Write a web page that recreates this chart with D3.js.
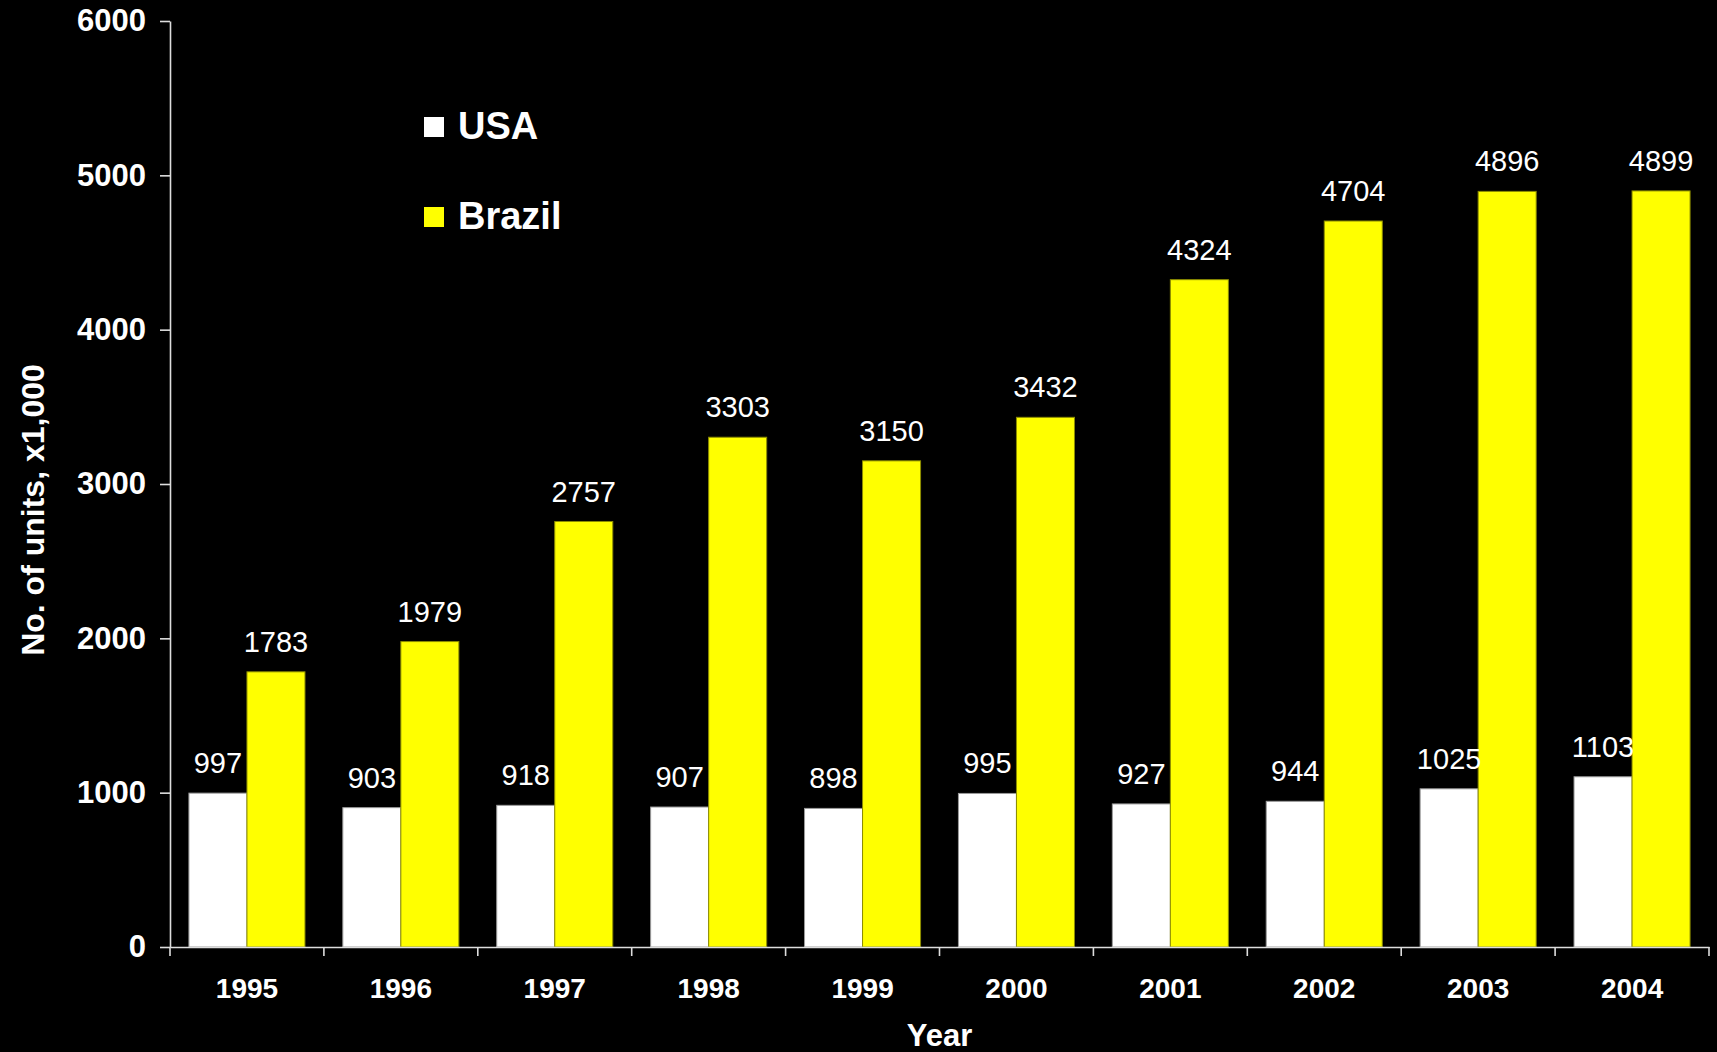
<!DOCTYPE html>
<html>
<head>
<meta charset="utf-8">
<script src="https://cdn.jsdelivr.net/npm/d3@7"></script>
<style>
  html, body { margin: 0; padding: 0; background: #000; }
  svg { display: block; font-family: "Liberation Sans", Arial, sans-serif; }
</style>
</head>
<body>
<svg id="chart" width="1717" height="1052"></svg>
<script>
// data
const years = ["1995", "1996", "1997", "1998", "1999", "2000", "2001", "2002", "2003", "2004"];
const series = ["USA", "Brazil"];
const usa = [997, 903, 918, 907, 898, 995, 927, 944, 1025, 1103];
const brazil = [1783, 1979, 2757, 3303, 3150, 3432, 4324, 4704, 4896, 4899];
const yTicks = [0, 1000, 2000, 3000, 4000, 5000, 6000];

const colors = { USA: "#ffffff", Brazil: "#ffff00" };
const strokes = { USA: "#9a9a9a", Brazil: "#8c8c00" };

const width = 1717, height = 1052;
const margin = { top: 21, right: 8, bottom: 105, left: 170 };

const svg = d3.select("#chart");

const x = d3.scaleBand()
  .domain(years)
  .range([margin.left, width - margin.right])
  .padding(0);

const bw = x.bandwidth();
const x1 = d3.scaleBand()
  .domain(series)
  .range([bw * 0.123, bw * 0.877])
  .padding(0);

const y = d3.scaleLinear()
  .domain([0, 6000])
  .range([height - margin.bottom, margin.top]);

const rows = years.map((yr, i) => ({ year: yr, USA: usa[i], Brazil: brazil[i] }));

// bars
const groups = svg.append("g")
  .selectAll("g")
  .data(rows)
  .join("g")
  .attr("transform", d => `translate(${x(d.year)},0)`);

groups.selectAll("rect")
  .data(d => series.map(s => ({ key: s, value: d[s] })))
  .join("rect")
  .attr("x", d => x1(d.key))
  .attr("y", d => y(d.value))
  .attr("width", x1.bandwidth())
  .attr("height", d => y(0) - y(d.value))
  .attr("fill", d => colors[d.key])
  .attr("stroke", d => strokes[d.key])
  .attr("stroke-width", 1);

groups.selectAll("text")
  .data(d => series.map(s => ({ key: s, value: d[s] })))
  .join("text")
  .attr("x", d => x1(d.key) + x1.bandwidth() / 2)
  .attr("y", d => y(d.value) - 20)
  .attr("text-anchor", "middle")
  .attr("fill", "#fff")
  .attr("font-size", 29)
  .text(d => d.value);

// y axis
const yAxis = svg.append("g")
  .attr("transform", `translate(${margin.left},0)`)
  .call(d3.axisLeft(y).tickValues(yTicks).tickFormat(d3.format("d"))
    .tickSize(10).tickPadding(14).tickSizeOuter(0));
yAxis.select(".domain").attr("stroke", "#ddd").attr("stroke-width", 1.6);
yAxis.selectAll(".tick line").attr("stroke", "#ddd").attr("stroke-width", 1.6);
yAxis.selectAll(".tick text")
  .attr("fill", "#fff")
  .attr("font-size", 31)
  .attr("font-weight", "bold")
  .attr("font-family", "'Liberation Sans', Arial, sans-serif");

// x axis
const xAxis = svg.append("g")
  .attr("transform", `translate(0,${y(0)})`)
  .call(d3.axisBottom(x).tickSize(0).tickPadding(31).tickSizeOuter(0));
xAxis.select(".domain").attr("stroke", "#ddd").attr("stroke-width", 1.6);
xAxis.selectAll(".tick text")
  .attr("fill", "#fff")
  .attr("font-size", 28)
  .attr("font-weight", "bold")
  .attr("font-family", "'Liberation Sans', Arial, sans-serif");

// tick marks sit between categories
const bounds = years.map(d => x(d)).concat([x(years[years.length - 1]) + bw]);
xAxis.selectAll(".bound")
  .data(bounds)
  .join("line")
  .attr("class", "bound")
  .attr("x1", d => d).attr("x2", d => d)
  .attr("y1", 0).attr("y2", 9)
  .attr("stroke", "#ddd")
  .attr("stroke-width", 1.6);

// axis titles
svg.append("text")
  .attr("x", (margin.left + width - margin.right) / 2)
  .attr("y", 1046)
  .attr("text-anchor", "middle")
  .attr("fill", "#fff")
  .attr("font-size", 31)
  .attr("font-weight", "bold")
  .text("Year");

svg.append("text")
  .attr("transform", "translate(44,510) rotate(-90)")
  .attr("text-anchor", "middle")
  .attr("fill", "#fff")
  .attr("font-size", 32)
  .attr("font-weight", "bold")
  .text("No. of units, x1,000");

// legend
const legend = svg.append("g")
  .selectAll("g")
  .data(series)
  .join("g")
  .attr("transform", (d, i) => `translate(424,${117 + i * 90})`);

legend.append("rect")
  .attr("width", 20)
  .attr("height", 20)
  .attr("fill", d => colors[d]);

legend.append("text")
  .attr("x", 34)
  .attr("y", 22)
  .attr("fill", "#fff")
  .attr("font-size", 38)
  .attr("font-weight", "bold")
  .text(d => d);
</script>
</body>
</html>
